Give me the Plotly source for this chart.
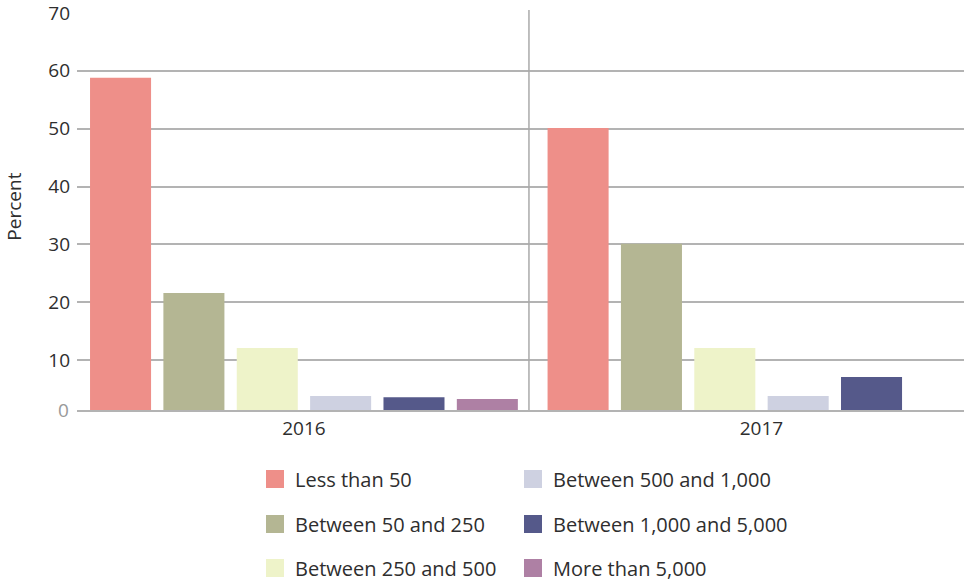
import plotly.graph_objects as go

years = ["2016", "2017"]
series = [
    "Less than 50",
    "Between 50 and 250",
    "Between 250 and 500",
    "Between 500 and 1,000",
    "Between 1,000 and 5,000",
    "More than 5,000",
]
values = {
    "Less than 50": [58.8, 50.1],
    "Between 50 and 250": [21.6, 30.1],
    "Between 250 and 500": [12.1, 12.1],
    "Between 500 and 1,000": [3.8, 3.8],
    "Between 1,000 and 5,000": [3.6, 7.1],
    "More than 5,000": [3.3, None],
}
colors = ["#EE8F89", "#B4B693", "#EEF3C9", "#CED1E1", "#55598A", "#AE80A4"]
y_ticks = [10, 20, 30, 40, 50, 60, 70]

FONT = "Open Sans"
TXT = "#2e2e2e"
GRID = "#b3b3b3"

fig = go.Figure()
for s, c in zip(series, colors):
    fig.add_trace(go.Bar(x=years, y=values[s], name=s, marker_color=c,
                         marker_line_width=0, showlegend=False))

# legend rows: (col1, col2)
rows = [(0, 3), (1, 4), (2, 5)]
legend_names = ["legend", "legend2", "legend3"]
for ln, (a, b) in zip(legend_names, rows):
    for i, lw in ((a, 213), (b, 300)):
        fig.add_trace(go.Scatter(x=[None], y=[None], mode="markers", name=series[i],
                                 marker=dict(symbol="square", size=16, color=colors[i],
                                             line=dict(width=2, color=colors[i])),
                                 legend=ln, legendwidth=lw, showlegend=True,
                                 hoverinfo="skip"))

row_y = [479, 524, 568]
W, H = 964, 581
leg_common = dict(orientation="h", xref="container", yref="container",
                  x=255 / W, xanchor="left", yanchor="middle",
                  font=dict(family=FONT, size=20, color=TXT),
                  bgcolor="rgba(0,0,0,0)", borderwidth=0, itemclick=False)
layout_legends = {}
for ln, yy in zip(legend_names, row_y):
    d = dict(leg_common)
    d["y"] = 1 - yy / H
    layout_legends[ln] = d

fig.update_layout(
    width=W, height=H,
    margin=dict(l=77, r=0, t=12, b=171),
    paper_bgcolor="white", plot_bgcolor="white",
    barmode="group", bargap=0.038, bargroupgap=0.168,
    font=dict(family=FONT, size=19, color=TXT),
    **layout_legends,
)
fig.update_xaxes(type="category", range=[-0.496, 1.4426], showgrid=False,
                 showline=True, linecolor=GRID, linewidth=2,
                 ticks="", tickfont=dict(family=FONT, size=19, color=TXT))
fig.update_yaxes(range=[1.383, 70.17], tickvals=y_ticks, showgrid=True,
                 gridcolor=GRID, gridwidth=2, zeroline=False, showline=False,
                 ticks="", ticklabelstandoff=6, ticklabeloverflow="allow",
                 tickfont=dict(family=FONT, size=19, color=TXT))

fig.add_shape(type="line", xref="x", yref="paper", x0=0.4918, x1=0.4918, y0=0, y1=1.005,
              line=dict(color="#aaaaaa", width=1.5))
fig.add_annotation(text="0", xref="paper", yref="y", x=0, y=1.383, xanchor="right",
                   yanchor="middle", xshift=-6, showarrow=False,
                   font=dict(family=FONT, size=19, color="#999999"))
fig.add_annotation(text="Percent", xref="paper", yref="paper", x=-0.071, y=0.511,
                   textangle=-90, xanchor="center", yanchor="middle", showarrow=False,
                   font=dict(family=FONT, size=19, color=TXT))

fig.write_html("out.html")
